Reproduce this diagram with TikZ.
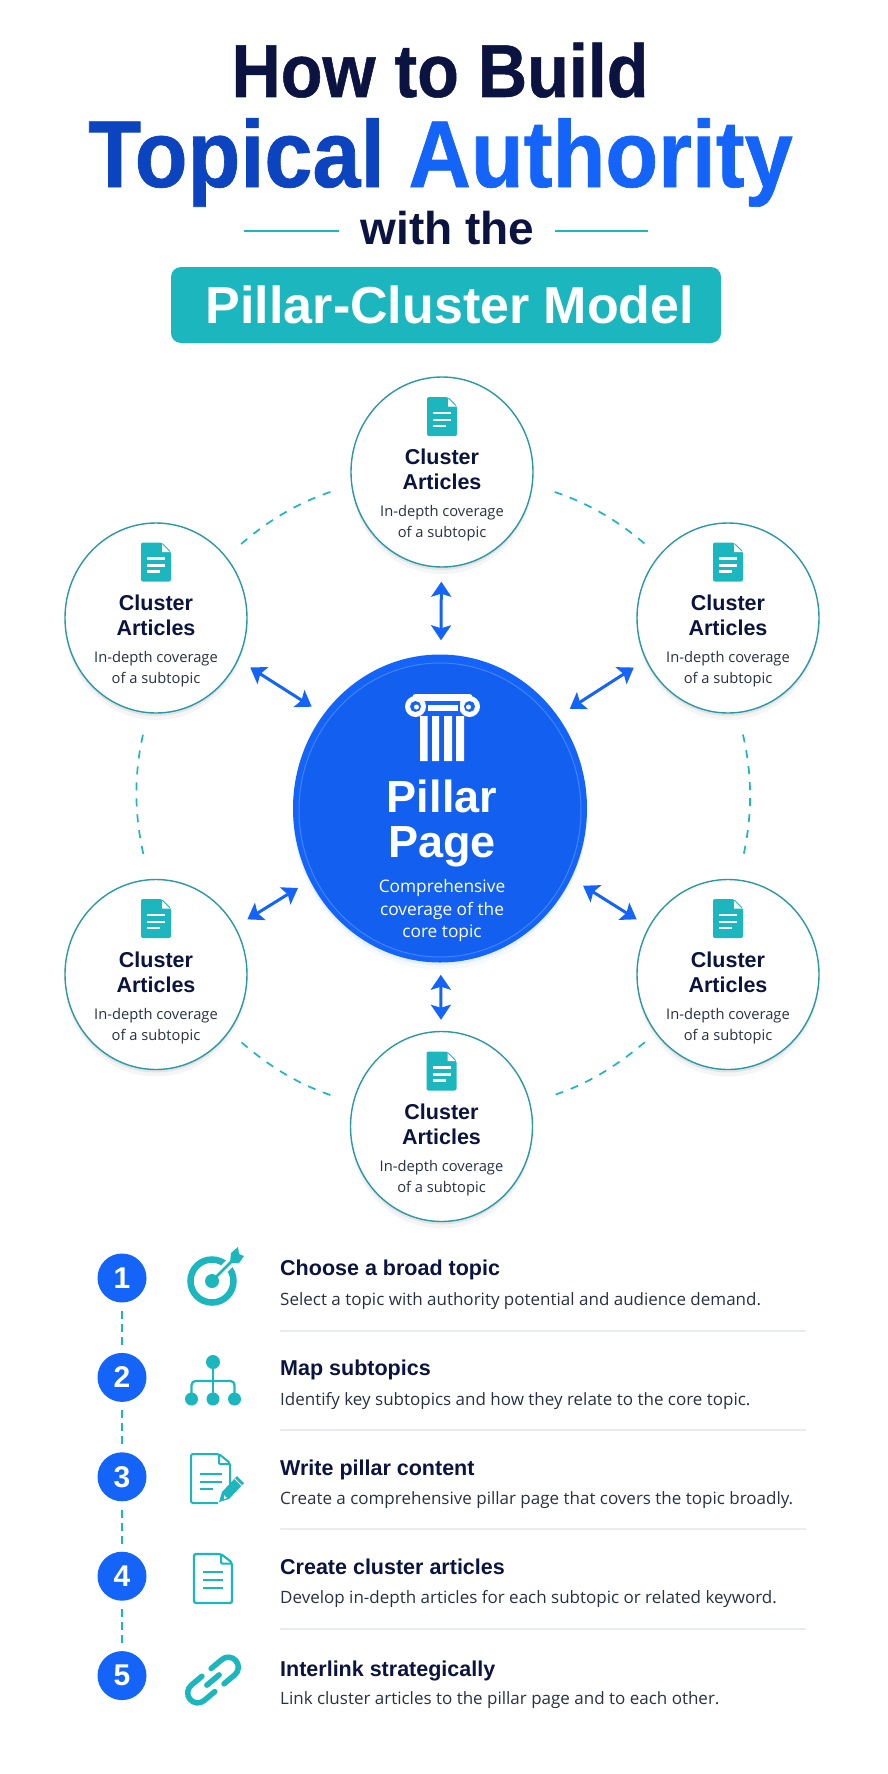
\documentclass[tikz,border=0pt]{standalone}
\usepackage{fontspec}
\setmainfont{Open Sans}
\newfontfamily\narrowfont[FakeStretch=0.91,BoldFeatures={FakeBold=0.7}]{Liberation Sans}
\newfontfamily\boldfont{Liberation Sans}
\usetikzlibrary{arrows.meta,positioning,shapes.geometric,shadows}

\definecolor{navy}{HTML}{0B1340}
\definecolor{ink}{HTML}{2A3044}
\definecolor{royal}{HTML}{0C43BE}
\definecolor{azure}{HTML}{1464FA}
\definecolor{teal}{HTML}{1CB6BE}
\definecolor{rim}{HTML}{2A98A6}
\definecolor{rule}{HTML}{E9ECF5}

\tikzset{
  headline/.style={font=\narrowfont\bfseries\fontsize{#1}{#1}\selectfont,text=navy,inner sep=0pt,anchor=base},
  subline/.style={font=\boldfont\bfseries\fontsize{#1}{#1}\selectfont,text=navy,inner sep=0pt,anchor=base},
  badge/.style={rectangle,rounded corners=10pt,fill=teal,text=white,minimum width=550pt,minimum height=76pt,
    inner sep=0pt,font=\boldfont\bfseries\fontsize{52}{52}\selectfont},
  headrule/.style={draw=teal,line width=2pt},
  softshadow/.style={drop shadow={shadow xshift=0pt,shadow yshift=-7pt,opacity=0.04,fill=#1},
    drop shadow={shadow xshift=0pt,shadow yshift=-3pt,opacity=0.07,fill=#1}},
  cluster/.style={ellipse,draw=rim,fill=white,line width=1.4pt,minimum width=182pt,minimum height=190pt,inner sep=0pt,softshadow=black},
  clustertext/.style={align=center,inner sep=0pt,text=navy,yshift=-23pt,font=\fontsize{22}{25}\selectfont},
  pillarpage/.style={ellipse,fill=azure,minimum width=294pt,minimum height=308pt,inner sep=0pt,softshadow=azure},
  pillarrim/.style={ellipse,draw=azure!80!white,fill=azure!96!black,line width=1pt,minimum width=282pt,minimum height=294pt,inner sep=0pt},
  pillartxt/.style={align=center,inner sep=0pt,text=white,font=\fontsize{45}{45}\selectfont},
  twoway/.style={{Stealth[length=15pt,width=20pt,inset=3pt]}-{Stealth[length=15pt,width=20pt,inset=3pt]},draw=azure,line width=3pt,
    shorten >=14pt,shorten <=14pt},
  ringdash/.style={draw=teal,line width=1.7pt,dash pattern=on 8pt off 8pt},
  stepnum/.style={circle,fill=azure,text=white,minimum size=49pt,inner sep=0pt,font=\boldfont\bfseries\fontsize{30}{30}\selectfont},
  stepdash/.style={draw=teal,line width=2pt,dash pattern=on 8pt off 5pt,shorten >=8pt,shorten <=8pt},
  steptitle/.style={anchor=base west,inner sep=0pt,text=navy,font=\boldfont\bfseries\fontsize{21.5}{22}\selectfont},
  stepbody/.style={anchor=base west,inner sep=0pt,text=ink,font=\fontsize{17}{17}\selectfont},
  steprule/.style={draw=rule,line width=1.2pt},
  % small icons
  docfilled/.pic={
    \fill[teal,rounded corners=2pt] (-15,-19.5) -- (6,-19.5) -- (15,-10.5) -- (15,19.5) -- (-15,19.5) -- cycle;
    \fill[white] (6,-18) -- (14,-10) -- (6,-10) -- cycle;
    \draw[white,line width=2.2pt] (-9,-3.5) -- (9,-3.5) (-9,3.5) -- (9,3.5) (-9,9.5) -- (4,9.5);
  },
  column/.pic={
    \fill[white,rounded corners=3pt] (-30,-33) rectangle (30,-26);
    \fill[white] (-27,-20.5) circle[radius=10.5] (27,-20.5) circle[radius=10.5];
    \fill[azure] (-27,-20.5) circle[radius=5.5] (27,-20.5) circle[radius=5.5];
    \fill[white] (-26,-20) circle[radius=2.5] (26,-20) circle[radius=2.5];
    \fill[azure] (-17,-26) rectangle (17,-11);
    \fill[white] (-15,-22) rectangle (15,-16);
    \fill[white] (-22.5,-11) rectangle (-15,34) (-10.5,-11) rectangle (-3.5,34)
      (1.5,-11) rectangle (9.5,34) (13.5,-11) rectangle (21.5,34);
  },
  target/.pic={
    \draw[teal,line width=6.5pt] (0,0) circle[radius=21.5];
    \draw[white,line width=9pt] (7,-7) -- (26,-26);
    \fill[teal] (0,0) circle[radius=7];
    \draw[teal,line width=2.8pt] (0,0) -- (22,-22);
    \fill[teal] (18,-18) -- (19,-28) -- (26,-34) -- (27,-27) -- (32,-25) -- (27,-18) -- cycle;
  },
  tree/.pic={
    \draw[teal,line width=2.2pt] (0,-19) -- (0,18);
    \draw[teal,line width=2.2pt,rounded corners=4pt] (-21.5,18) -- (-21.5,0) -- (21.5,0) -- (21.5,18);
    \fill[teal] (0,-19) circle[radius=7] (-21.5,18) circle[radius=6.5] (0,18) circle[radius=6.5] (21.5,18) circle[radius=6.5];
  },
  docpen/.pic={
    \draw[teal,line width=2pt,rounded corners=2pt] (20,6) -- (20,-16) -- (9,-25) -- (-19,-25) -- (-19,24) -- (8,24);
    \draw[teal,line width=2pt,rounded corners=1pt] (9,-25) -- (9,-15) -- (20,-15);
    \draw[teal,line width=2pt] (-10,-5) -- (12,-5) (-10,2.5) -- (12,2.5) (-10,10) -- (3,10);
    \fill[teal] (9,23) -- (12,13) -- (27,-3) -- (34,4) -- (19,20) -- cycle;
    \draw[white,line width=1pt] (24.5,-0.5) -- (31.5,6.5);
    \fill[white] (14,16) -- (17,19) -- (14,20) -- cycle;
  },
  docline/.pic={
    \draw[teal,line width=2.2pt,rounded corners=2pt] (19,-16) -- (8,-24.5) -- (-19,-24.5) -- (-19,24.5) -- (19,24.5) -- cycle;
    \draw[teal,line width=2pt,rounded corners=1pt] (8,-24.5) -- (8,-15) -- (19,-15);
    \draw[teal,line width=2pt] (-10,-6.5) -- (10,-6.5) (-10,1.5) -- (10,1.5) (-10,9.5) -- (10,9.5);
  },
  chain/.pic={
    \begin{scope}[rotate=40]
      \draw[teal,line width=5.5pt,line cap=round,rounded corners=10pt] (6,-10) -- (30,-10) -- (30,10) -- (6,10);
      \draw[teal,line width=5.5pt,line cap=round,rounded corners=10pt] (-6,-10) -- (-30,-10) -- (-30,10) -- (-6,10);
      \draw[teal,line width=5.5pt,line cap=round] (-8,0) -- (8,0);
    \end{scope}
  },
}

\newcommand{\chead}{\boldfont\bfseries\fontsize{21.5}{25}\selectfont}
\newcommand{\cbody}{\mdseries\fontsize{14.7}{21}\selectfont\color{ink}}
\newcommand{\clusterlabel}{\chead Cluster\\\chead Articles\\[2pt]\cbody In-depth coverage\\[-4pt]\cbody of a subtopic}
\newcommand{\phead}{\boldfont\bfseries\fontsize{45}{45}\selectfont}
\newcommand{\pbody}{\mdseries\fontsize{17.3}{22.5}\selectfont}

\begin{document}
\begin{tikzpicture}[x=1pt,y=-1pt,node distance=50pt]
\useasboundingbox (0,0) rectangle (887,1774);

% heading
\node[headline=75,name=howto] at (440,97) {How to Build};
\node[headline=95,name=topical] at (440.5,187) {\textcolor{royal}{Topical} \textcolor{azure}{Authority}};
\node[subline=46,name=withthe] at (447.5,244) {with the};
\coordinate (ruleaa) at (244,231);
\coordinate (ruleab) at (339,231);
\coordinate (ruleba) at (555,231);
\coordinate (rulebb) at (648,231);
\draw[headrule] (ruleaa) -- (ruleab);
\draw[headrule] (ruleba) -- (rulebb);
\node[badge,name=model] at (446,305) {\hspace*{8pt}Pillar-Cluster Model};

% centre page
\node[pillarpage,name=pillar] at (440,808.5) {};
\node[pillarrim,name=pillarin] at (440,810) {};
\pic (pillaricon) at (442.5,727) {column};
\node[pillartxt,name=pillartext] at (442,861) {\phead Pillar\\\phead Page\\[-10pt]\pbody Comprehensive\\[-22.5pt]\pbody coverage of the\\[-22.5pt]\pbody core topic};

% cluster circles
\node[cluster,name=ctop] at (442,472) {};
\node[cluster,name=ctl] at (156,618) {};
\node[cluster,name=ctr] at (728,618) {};
\node[cluster,name=cbl] at (156,974.5) {};
\node[cluster,name=cbr] at (728,974.5) {};
\node[cluster,name=cbot] at (441.5,1126.5) {};

\node[clustertext,name=ctoptext] at (ctop.center) {\clusterlabel};
\node[clustertext,name=ctltext] at (ctl.center) {\clusterlabel};
\node[clustertext,name=ctrtext] at (ctr.center) {\clusterlabel};
\node[clustertext,name=cbltext] at (cbl.center) {\clusterlabel};
\node[clustertext,name=cbrtext] at (cbr.center) {\clusterlabel};
\node[clustertext,name=cbottext] at (cbot.center) {\clusterlabel};

\pic (ctopicon) at (442,416.5) {docfilled};
\pic (ctlicon) at (156,562) {docfilled};
\pic (ctricon) at (728,562) {docfilled};
\pic (cblicon) at (156,918.5) {docfilled};
\pic (cbricon) at (728,918.5) {docfilled};
\pic (cboticon) at (441.5,1071) {docfilled};

% connections
\draw[twoway] (ctop) -- (pillar);
\draw[twoway,shorten >=12pt,shorten <=11pt] (cbot) -- (pillar);
\draw[twoway] (ctl.-27) -- (pillar.141);
\draw[twoway] (ctr.207) -- (pillar.38);
\draw[twoway] (cbl.31) -- (pillar.209);
\draw[twoway] (cbr.149) -- (pillar.-28);

% outer ring
\draw[ringdash,shorten <=22pt,shorten >=19pt] (ctop.188) to[bend right=11] (ctl.41);
\draw[ringdash,shorten <=22pt,shorten >=19pt] (ctl.265) to[bend right=13] (cbl.94);
\draw[ringdash,shorten <=16pt,shorten >=22pt] (cbl.-38) to[bend right=11] (cbot.165);
\draw[ringdash,shorten <=23pt,shorten >=18pt] (ctop.-8) to[bend left=11] (ctr.138);
\draw[ringdash,shorten <=22pt,shorten >=19pt] (ctr.276) to[bend left=13] (cbr.84);
\draw[ringdash,shorten <=14pt,shorten >=26pt] (cbr.219) to[bend left=11] (cbot.15);

% steps
\node[stepnum,name=stepa] at (122,1278) {1};
\node[stepnum,name=stepb,below=of stepa] {2};
\node[stepnum,name=stepc,below=of stepb] {3};
\node[stepnum,name=stepd,below=of stepc] {4};
\node[stepnum,name=stepe,below=of stepd] {5};

\draw[stepdash] (stepa) -- (stepb);
\draw[stepdash] (stepb) -- (stepc);
\draw[stepdash] (stepc) -- (stepd);
\draw[stepdash] (stepd) -- (stepe);

\pic (iconaim) at (212,1281) {target};
\pic (icontree) at (213,1381) {tree};
\pic (iconpen) at (210,1479) {docpen};
\pic (icondoc) at (213,1578.5) {docline};
\pic (iconlink) at (213,1680) {chain};

\node[steptitle,name=titlea] at (280,1275) {Choose a broad topic};
\node[stepbody,name=bodya] at (280,1305) {Select a topic with authority potential and audience demand.};
\node[steptitle,name=titleb] at (280,1375) {Map subtopics};
\node[stepbody,name=bodyb] at (280,1405) {Identify key subtopics and how they relate to the core topic.};
\node[steptitle,name=titlec] at (280,1475) {Write pillar content};
\node[stepbody,name=bodyc] at (280,1504) {Create a comprehensive pillar page that covers the topic broadly.};
\node[steptitle,name=titled] at (280,1574) {Create cluster articles};
\node[stepbody,name=bodyd] at (280,1603) {Develop in-depth articles for each subtopic or related keyword.};
\node[steptitle,name=titlee] at (280,1676) {Interlink strategically};
\node[stepbody,name=bodye] at (280,1704) {Link cluster articles to the pillar page and to each other.};

\draw[steprule] (280,1331) -- (806,1331);
\draw[steprule] (280,1430) -- (806,1430);
\draw[steprule] (280,1529) -- (806,1529);
\draw[steprule] (280,1629) -- (806,1629);

\end{tikzpicture}
\end{document}
